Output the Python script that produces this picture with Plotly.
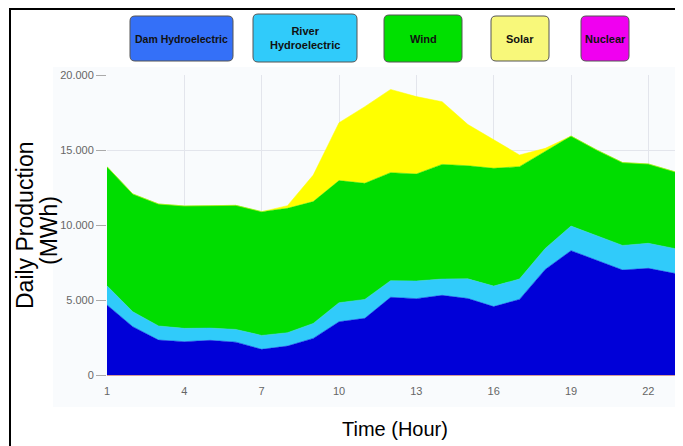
import plotly.graph_objects as go

# hourly production (MWh)
hours = list(range(1, 25))
dam = [4670, 3220, 2330, 2220, 2310, 2190, 1710, 1930, 2440, 3550, 3780, 5180,
       5090, 5310, 5100, 4560, 5040, 7040, 8290, 7670, 7000, 7110, 6780, 6300]
river = [1280, 1000, 940, 890, 820, 850, 930, 890, 1000, 1270, 1260, 1110,
         1180, 1090, 1310, 1370, 1360, 1400, 1640, 1600, 1640, 1670, 1660, 1500]
wind = [7940, 7850, 8130, 8160, 8160, 8270, 8250, 8290, 8120, 8140, 7740, 7200,
        7130, 7640, 7540, 7850, 7490, 6450, 6000, 5730, 5520, 5290, 5120, 5100]
solar = [0, 0, 0, 0, 0, 0, 0, 180, 1770, 3860, 5110, 5550,
         5160, 4180, 2750, 1890, 780, 220, 0, 0, 0, 0, 0, 0]
nuclear = [0] * 24

series_names = ["Dam Hydroelectric", "River<br>Hydroelectric", "Wind", "Solar", "Nuclear"]
area_colors = ["#0000d8", "#30cbfa", "#00dd00", "#ffff00", "#ff00ff"]
legend_colors = ["#3470f8", "#30cbfa", "#00e000", "#f8f87a", "#f000f0"]
FONT = "Liberation Sans, Arial, sans-serif"

# window is 683x446, page body has an 8px margin
OFF = 8
W, H = 683 - 2 * OFF, 446 - OFF
PL, PT, PB, PR = 107, 75, 375, 683 - OFF   # plot box in window pixels
PW, PH = PR - PL, PB - PT
XPX = 25.78  # pixels per hour


def px(x):
    return (x - PL) / PW


def py(y):
    return (PB - y) / PH


def rounded_rect(x0, y0, x1, y1, r=5):
    pts = [
        f"M {px(x0 + r)} {py(y0)}",
        f"L {px(x1 - r)} {py(y0)}",
        f"Q {px(x1)} {py(y0)} {px(x1)} {py(y0 + r)}",
        f"L {px(x1)} {py(y1 - r)}",
        f"Q {px(x1)} {py(y1)} {px(x1 - r)} {py(y1)}",
        f"L {px(x0 + r)} {py(y1)}",
        f"Q {px(x0)} {py(y1)} {px(x0)} {py(y1 - r)}",
        f"L {px(x0)} {py(y0 + r)}",
        f"Q {px(x0)} {py(y0)} {px(x0 + r)} {py(y0)}",
        "Z",
    ]
    return " ".join(pts)


fig = go.Figure()
for name, vals, col in zip(series_names, [dam, river, wind, solar, nuclear], area_colors):
    fig.add_trace(go.Scatter(
        x=hours, y=vals, name=name.replace("<br>", " "),
        mode="lines", stackgroup="one",
        line=dict(width=0 if name == "Nuclear" else 0.5, color=col), fillcolor=col,
        showlegend=False,
    ))

shapes = []
# light container background
shapes.append(dict(type="rect", xref="paper", yref="paper", layer="below",
                   x0=px(53), x1=px(700), y0=py(407), y1=py(67),
                   fillcolor="#f9fbfd", line=dict(width=0)))
# outer black frame (left + top)
shapes.append(dict(type="line", xref="paper", yref="paper",
                   x0=px(10), x1=px(10), y0=py(9), y1=py(460),
                   line=dict(color="black", width=2)))
shapes.append(dict(type="line", xref="paper", yref="paper",
                   x0=px(9), x1=px(700), y0=py(9), y1=py(9),
                   line=dict(color="black", width=2)))

boxes = [(130, 16, 233, 61), (253, 14, 357, 62), (384, 15, 462, 62),
         (491, 16, 549, 61), (581, 16, 629, 61)]
annotations = []
for (x0, y0, x1, y1), name, col in zip(boxes, series_names, legend_colors):
    shapes.append(dict(type="path", xref="paper", yref="paper",
                       path=rounded_rect(x0, y0, x1, y1),
                       fillcolor=col, line=dict(color="#555", width=1)))
    annotations.append(dict(x=px((x0 + x1) / 2), y=py((y0 + y1) / 2),
                            xref="paper", yref="paper", showarrow=False,
                            xanchor="center", yanchor="middle",
                            text=f"<b>{name}</b>",
                            font=dict(size=10.5 if name.startswith("Dam") else 11,
                                      color="#111", family=FONT)))

# axis titles as free text
annotations.append(dict(x=px(25), y=py(226), xref="paper", yref="paper",
                        showarrow=False, textangle=-90,
                        xanchor="center", yanchor="middle",
                        text="Daily Production", font=dict(size=23, color="black", family=FONT)))
annotations.append(dict(x=px(49), y=py(231), xref="paper", yref="paper",
                        showarrow=False, textangle=-90,
                        xanchor="center", yanchor="middle",
                        text="(MWh)", font=dict(size=23, color="black", family=FONT)))
annotations.append(dict(x=px(395), y=py(429), xref="paper", yref="paper",
                        showarrow=False, xanchor="center", yanchor="middle",
                        text="Time (Hour)", font=dict(size=20, color="black", family=FONT)))

fig.update_layout(
    width=W, height=H,
    margin=dict(l=PL - OFF, r=0, t=PT - OFF, b=H - (PB - OFF)),
    paper_bgcolor="white",
    plot_bgcolor="rgba(0,0,0,0)",
    separators=",.",
    shapes=shapes,
    annotations=annotations,
    font=dict(family=FONT),
)
fig.update_xaxes(
    range=[1, 1 + PW / XPX], tickvals=[1, 4, 7, 10, 13, 16, 19, 22],
    showgrid=True, gridcolor="#e3e5ec", zeroline=False,
    showline=True, linecolor="#d49a9a", linewidth=1,
    ticks="outside", ticklen=6, tickcolor="rgba(0,0,0,0)",
    tickfont=dict(size=11, color="#666"),
    automargin=False,
)
fig.update_yaxes(
    range=[0, 20000], tickvals=[0, 5000, 10000, 15000, 20000],
    tickformat=",d",
    showgrid=True, gridcolor="#e3e5ec", zeroline=False,
    ticks="outside", ticklen=10, tickcolor="#aaa",
    tickfont=dict(size=11, color="#666"),
    automargin=False,
)

fig.write_html("out.html")
